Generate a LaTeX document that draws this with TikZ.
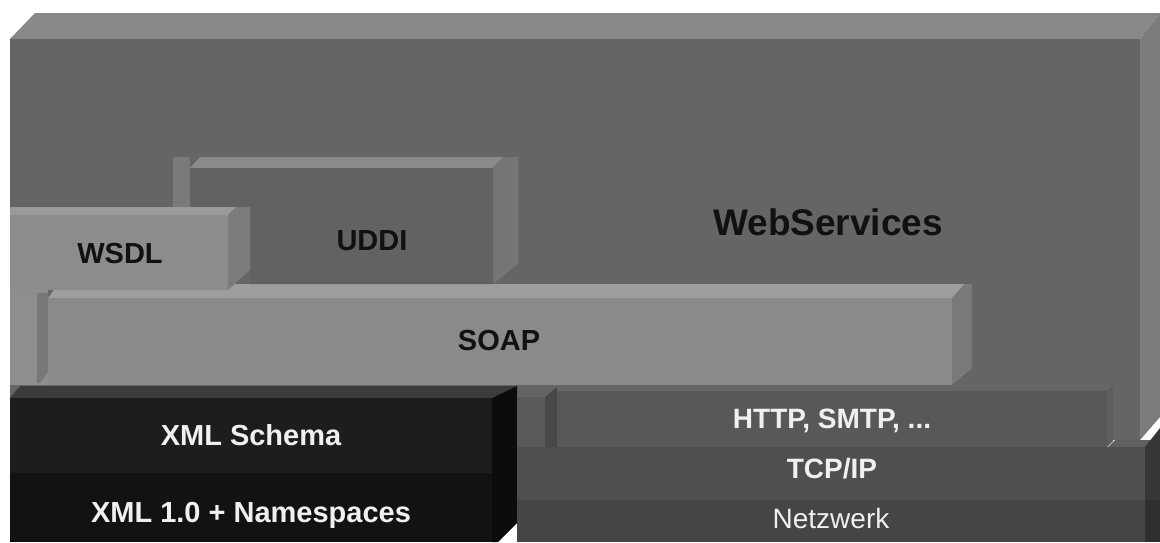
\documentclass[tikz,border=0pt]{standalone}
\usepackage{fontspec}
\setmainfont{Liberation Sans}
\definecolor{wsfront}{HTML}{656565}
\definecolor{wstop}{HTML}{888888}
\definecolor{wsside}{HTML}{7C7C7C}
\definecolor{notchwall}{HTML}{7A7A7A}
\definecolor{notchtop}{HTML}{8A8A8A}
\definecolor{uddifront}{HTML}{626262}
\definecolor{uddiside}{HTML}{767676}
\definecolor{wsdlfront}{HTML}{8C8C8C}
\definecolor{wsdltop}{HTML}{9A9A9A}
\definecolor{wsdlside}{HTML}{7B7B7B}
\definecolor{soapfront}{HTML}{8A8A8A}
\definecolor{soaptop}{HTML}{9E9E9E}
\definecolor{soapside}{HTML}{7A7A7A}
\definecolor{soapleft}{HTML}{8E8E8E}
\definecolor{soapstrip}{HTML}{777777}
\definecolor{xmltop}{HTML}{3B3B3B}
\definecolor{xmlupper}{HTML}{1D1D1D}
\definecolor{xmllower}{HTML}{121212}
\definecolor{xmlside}{HTML}{0C0C0C}
\definecolor{httpfront}{HTML}{585858}
\definecolor{httptop}{HTML}{666666}
\definecolor{httpside}{HTML}{5E5E5E}
\definecolor{stubfront}{HTML}{5A5A5A}
\definecolor{stubtop}{HTML}{646464}
\definecolor{stubside}{HTML}{484848}
\definecolor{tcpfront}{HTML}{4F4F4F}
\definecolor{tcptop}{HTML}{606060}
\definecolor{tcpside}{HTML}{363636}
\definecolor{netfront}{HTML}{454545}
\definecolor{netside}{HTML}{2F2F2F}
\definecolor{darktext}{HTML}{111111}
\definecolor{lighttext}{HTML}{F0F0F0}
\tikzset{
  lbl/.style={inner sep=0pt, anchor=base, font=\bfseries\fontsize{29}{34}\selectfont},
  lblsmall/.style={inner sep=0pt, anchor=base, font=\bfseries\fontsize{28}{33}\selectfont},
  dark/.style={text=darktext},
  light/.style={text=lighttext}
}
\begin{document}
\begin{tikzpicture}[x=1pt,y=-1pt]
\useasboundingbox (0,0) rectangle (1160,542);
\fill[white] (0,0) rectangle (1160,542);
% WebServices block
\fill[wstop] (10,39) -- (35,13) -- (1160,13) -- (1140,39) -- cycle;
\fill[wsfront] (10,39) rectangle (1140,440);
\fill[wsside] (1140,39) -- (1160,13) -- (1160,417) -- (1140,440) -- cycle;
% notch around UDDI
\fill[notchwall] (173,157) rectangle (190,215);
\fill[notchtop] (190,168) -- (200,157) -- (503,157) -- (493,168) -- cycle;
\fill[uddiside] (493,168) -- (503,157) -- (518,157) -- (518,264) -- (493,284) -- cycle;
% SOAP
\fill[soapleft] (10,290) rectangle (48,385);
\fill[soapstrip] (37,293) -- (48,293) -- (48,372) -- (40,383) -- (37,383) -- cycle;
\fill[soaptop] (48,298) -- (58,284) -- (965,284) -- (952,298) -- cycle;
\fill[soapfront] (48,298) rectangle (952,385);
\fill[soapside] (952,298) -- (965,284) -- (972,284) -- (972,368) -- (952,385) -- cycle;
% UDDI
\fill[uddifront] (190,168) -- (493,168) -- (493,284) -- (250,284) -- (250,207) -- (190,207) -- cycle;
% WSDL
\fill[wsdltop] (10,215) -- (10,207) -- (236,207) -- (228,215) -- cycle;
\fill[wsdlfront] (10,215) rectangle (228,290);
\fill[wsdlside] (228,215) -- (236,207) -- (250,207) -- (250,270) -- (228,290) -- cycle;
% XML block
\fill[xmltop] (10,398) -- (20,386) -- (517,386) -- (492,398) -- cycle;
\fill[xmlupper] (10,398) rectangle (492,473);
\fill[xmllower] (10,473) rectangle (492,542);
\fill[xmlside] (492,398) -- (517,386) -- (517,523) -- (498,542) -- (492,542) -- cycle;
% transport stack
\fill[tcptop] (1108,447) -- (1115,440) -- (1152,440) -- (1145,447) -- cycle;
\fill[tcpfront] (517,447) rectangle (1145,500);
\fill[netfront] (517,500) rectangle (1145,542);
\fill[tcpside] (1145,447) -- (1160,428) -- (1160,500) -- (1145,500) -- cycle;
\fill[netside] (1145,500) rectangle (1160,542);
\fill[stubtop] (517,397) -- (520,387) -- (557,387) -- (545,397) -- cycle;
\fill[stubfront] (517,397) rectangle (545,447);
\fill[stubside] (545,397) -- (557,387) -- (557,447) -- (545,447) -- cycle;
\fill[httptop] (557,391) -- (563,385) -- (1113,385) -- (1107,391) -- cycle;
\fill[httpfront] (557,391) rectangle (1107,447);
\fill[httpside] (1107,391) -- (1113,385) -- (1113,441) -- (1107,447) -- cycle;
% labels
\node[lbl, dark, font=\bfseries\fontsize{37}{44}\selectfont] (ws) at (828,235) {WebServices};
\node[lbl, dark] (uddi) at (372,250) {UDDI};
\node[lbl, dark] (wsdl) at (120,263) {WSDL};
\node[lbl, dark] (soap) at (499,350) {SOAP};
\node[lbl, light] (xmls) at (251,445) {XML Schema};
\node[lbl, light] (xmlns) at (251,522) {XML 1.0 + Namespaces};
\node[lblsmall, light] (http) at (832,428) {HTTP, SMTP, ...};
\node[lblsmall, light] (tcp) at (832,478) {TCP/IP};
\node[lblsmall, light, font=\fontsize{28}{33}\selectfont] (net) at (831,528) {Netzwerk};
\end{tikzpicture}
\end{document}
